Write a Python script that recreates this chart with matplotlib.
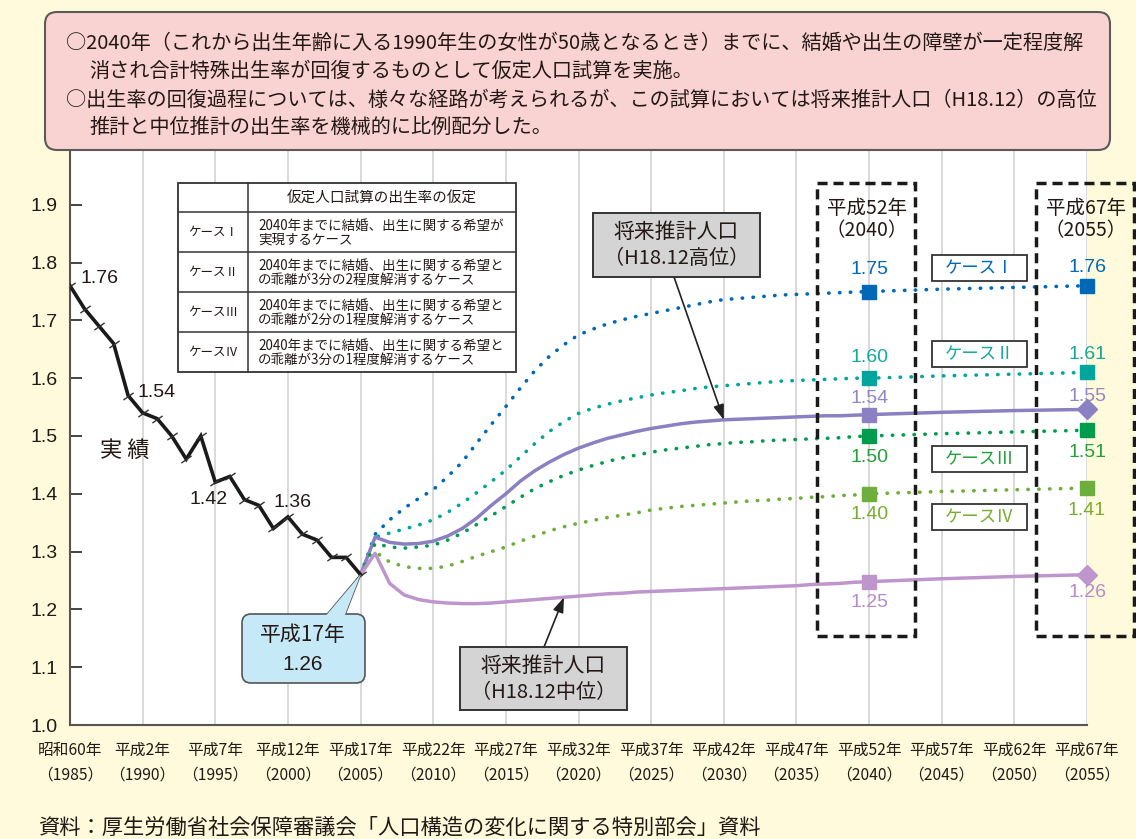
import matplotlib
matplotlib.use("Agg")
import matplotlib.pyplot as plt
from matplotlib.patches import FancyBboxPatch, Rectangle, Polygon

# ---------------- data ----------------
actual_years = list(range(1985, 2006))
actual_tfr = [1.76, 1.72, 1.69, 1.66, 1.57, 1.54, 1.53, 1.50, 1.46, 1.50, 1.42,
              1.43, 1.39, 1.38, 1.34, 1.36, 1.33, 1.32, 1.29, 1.29, 1.26]
actual_labeled_years = [1985, 1990, 1995, 2000]

proj_years = list(range(2005, 2041)) + [2045, 2050, 2055]
high_variant = [1.26, 1.325, 1.316, 1.313, 1.314, 1.318, 1.327, 1.340, 1.358, 1.380,
                1.400, 1.422, 1.440, 1.455, 1.468, 1.479, 1.488, 1.496, 1.502, 1.508,
                1.513, 1.517, 1.521, 1.524, 1.526, 1.528, 1.529, 1.530, 1.531, 1.532,
                1.533, 1.534, 1.535, 1.535, 1.536, 1.537, 1.541, 1.544, 1.546]
medium_variant = [1.26, 1.297, 1.245, 1.225, 1.217, 1.213, 1.211, 1.210, 1.210, 1.211,
                  1.213, 1.215, 1.217, 1.219, 1.221, 1.223, 1.225, 1.227, 1.228, 1.230,
                  1.231, 1.232, 1.233, 1.234, 1.235, 1.236, 1.237, 1.238, 1.239, 1.240,
                  1.241, 1.243, 1.244, 1.245, 1.247, 1.248, 1.253, 1.257, 1.260]
case1 = [1.26, 1.330, 1.355, 1.375, 1.392, 1.407, 1.430, 1.455, 1.488, 1.520,
         1.551, 1.583, 1.613, 1.638, 1.658, 1.675, 1.685, 1.694, 1.701, 1.707,
         1.712, 1.717, 1.722, 1.727, 1.732, 1.736, 1.738, 1.740, 1.742, 1.744,
         1.745, 1.746, 1.747, 1.748, 1.749, 1.750, 1.754, 1.757, 1.760]
case2 = [1.26, 1.325, 1.332, 1.339, 1.346, 1.355, 1.368, 1.384, 1.402, 1.421,
         1.441, 1.464, 1.487, 1.508, 1.525, 1.539, 1.548, 1.555, 1.561, 1.566,
         1.571, 1.575, 1.578, 1.582, 1.585, 1.587, 1.589, 1.591, 1.593, 1.595,
         1.596, 1.597, 1.598, 1.599, 1.600, 1.600, 1.604, 1.607, 1.610]
case3 = [1.26, 1.314, 1.308, 1.306, 1.308, 1.311, 1.320, 1.332, 1.347, 1.362,
         1.378, 1.394, 1.409, 1.421, 1.432, 1.441, 1.449, 1.456, 1.462, 1.467,
         1.472, 1.476, 1.479, 1.482, 1.485, 1.487, 1.489, 1.490, 1.492, 1.493,
         1.494, 1.495, 1.496, 1.497, 1.499, 1.500, 1.504, 1.507, 1.510]
case4 = [1.26, 1.300, 1.282, 1.274, 1.271, 1.271, 1.275, 1.283, 1.292, 1.300,
         1.308, 1.318, 1.327, 1.336, 1.343, 1.349, 1.354, 1.359, 1.363, 1.367,
         1.372, 1.375, 1.378, 1.380, 1.382, 1.384, 1.386, 1.388, 1.389, 1.391,
         1.392, 1.394, 1.395, 1.397, 1.398, 1.400, 1.404, 1.407, 1.410]
marker_years = [2040, 2055]

tick_years = list(range(1985, 2056, 5))
era_labels = ["昭和60年", "平成2年", "平成7年", "平成12年", "平成17年", "平成22年", "平成27年",
              "平成32年", "平成37年", "平成42年", "平成47年", "平成52年", "平成57年",
              "平成62年", "平成67年"]
y_ticks = [1.0, 1.1, 1.2, 1.3, 1.4, 1.5, 1.6, 1.7, 1.8, 1.9]

case_names = ["ケースⅠ", "ケースⅡ", "ケースⅢ", "ケースⅣ"]
table_header = "仮定人口試算の出生率の仮定"
table_rows = [
    ("2040年までに結婚、出生に関する希望が", "実現するケース"),
    ("2040年までに結婚、出生に関する希望と", "の乖離が3分の2程度解消するケース"),
    ("2040年までに結婚、出生に関する希望と", "の乖離が2分の1程度解消するケース"),
    ("2040年までに結婚、出生に関する希望と", "の乖離が3分の1程度解消するケース"),
]
note_lines = [
    "○2040年（これから出生年齢に入る1990年生の女性が50歳となるとき）までに、結婚や出生の障壁が一定程度解",
    "消され合計特殊出生率が回復するものとして仮定人口試算を実施。",
    "○出生率の回復過程については、様々な経路が考えられるが、この試算においては将来推計人口（H18.12）の高位",
    "推計と中位推計の出生率を機械的に比例配分した。",
]
source_text = "資料：厚生労働省社会保障審議会「人口構造の変化に関する特別部会」資料"

# ---------------- setup ----------------
W, H = 1136, 839
CJK = ["Noto Sans CJK JP", "DejaVu Sans"]
NUM = ["Liberation Sans", "DejaVu Sans"]
plt.rcParams["font.family"] = CJK
TXT = "#231815"

fig = plt.figure(figsize=(W / 100, H / 100), dpi=100, facecolor="#FFFADB")
ax = fig.add_axes([70 / W, 1 - 725 / H, (1087 - 70) / W, (725 - 150) / H])
ax.set_facecolor("white")
ax.set_xlim(1985, 2055)
ax.set_ylim(1.0, 1.0 + 575 / 578)

ov = fig.add_axes([0, 0, 1, 1])
ov.set_zorder(5)
ov.set_xlim(0, W)
ov.set_ylim(H, 0)
ov.axis("off")


def pt(v):
    return v * 72 / 100


# axes styling
for s in ["top", "right"]:
    ax.spines[s].set_visible(False)
for s in ["left", "bottom"]:
    ax.spines[s].set_color("#555555")
    ax.spines[s].set_linewidth(1.5)
ax.set_xticks(tick_years)
ax.set_xticklabels([f"{e}\n（{y}）" for e, y in zip(era_labels, tick_years)],
                   fontsize=11.3, linespacing=1.6, color=TXT)
ax.tick_params(axis="x", length=0, pad=12)
ax.set_yticks(y_ticks)
ax.set_yticklabels([f"{v:.1f}" for v in y_ticks], fontsize=14, family=NUM, color=TXT)
ax.tick_params(axis="y", direction="in", length=8.6, width=1.4, color="#444444", pad=9)
ax.grid(axis="x", color="#D3D3D3", lw=1.2)
ax.set_axisbelow(True)

# actual line
ax.plot(actual_years, actual_tfr, color="#1a1a1a", lw=2.6, zorder=4, solid_joinstyle="miter")
ax.plot(actual_years, actual_tfr, ls="none", marker=(2, 0, -55), ms=9, mew=1.0,
        mec="#333333", zorder=5)
label_offsets = {1985: (30, -7), 1990: (14, -20), 1995: (-7, 17), 2000: (5, -14)}
for yr in actual_labeled_years:
    v = actual_tfr[actual_years.index(yr)]
    dx, dy = label_offsets[yr]
    ax.annotate(f"{v:.2f}", (yr, v), xytext=(pt(dx), -pt(dy)), textcoords="offset points",
                ha="center", va="center", fontsize=14, family=NUM, color=TXT, zorder=6)

# projections
series = [
    (case1, "#0068B7", "#0068B7", "dot", ["s", "s"], [-22, -18]),
    (case2, "#00A59B", "#14A89C", "dot", ["s", "s"], [-21, -18]),
    (high_variant, "#8A80C2", "#9088C6", "solid", ["s", "D"], [-16, -13]),
    (case3, "#009B4C", "#22A03C", "dot", ["s", "s"], [21, 22]),
    (case4, "#6DAE3C", "#78AE30", "dot", ["s", "s"], [21, 22]),
    (medium_variant, "#BE95CC", "#B98BC9", "solid", ["s", "D"], [21, 18]),
]
for vals, col, lcol, style, mks, offs in series:
    if style == "dot":
        ax.plot(proj_years, vals, color=col, lw=2.6, ls=(0, (0.1, 2.9)),
                dash_capstyle="round", zorder=3)
    else:
        ax.plot(proj_years, vals, color=col, lw=2.5, zorder=3)
    for yr, mk, dy in zip(marker_years, mks, offs):
        v = vals[proj_years.index(yr)]
        ax.plot([yr], [v], ls="none", marker=mk, ms=9.5 if mk == "s" else 10,
                color=col, zorder=4, clip_on=False)
        ax.annotate(f"{v:.2f}", (yr, v), xytext=(0, -pt(dy)), textcoords="offset points",
                    ha="center", va="center", fontsize=14, family=NUM, color=lcol,
                    zorder=6, annotation_clip=False)

# arrows to callouts
i_hi = proj_years.index(2030)
ax.annotate("", xy=(2030, high_variant[i_hi]), xycoords="data", xytext=(674, 277),
            textcoords=ov.transData,
            arrowprops=dict(arrowstyle="-|>,head_length=0.9,head_width=0.32", color="#222222",
                            lw=1.2, shrinkA=0, shrinkB=0), zorder=7)
i_md = proj_years.index(2019)
ax.annotate("", xy=(2019, medium_variant[i_md]), xycoords="data", xytext=(544, 647),
            textcoords=ov.transData,
            arrowprops=dict(arrowstyle="-|>,head_length=0.9,head_width=0.32", color="#222222",
                            lw=1.2, shrinkA=0, shrinkB=0), zorder=7)

# ---------------- overlay ----------------
# note box
ov.add_patch(FancyBboxPatch((45, 12), 1065, 138, boxstyle="round,pad=0,rounding_size=12",
                            fc="#F9D3D1", ec="#5A5A5A", lw=1.5))
note_pos = [(66, 43), (89, 71), (66, 100), (89, 127)]
for (x, y), line in zip(note_pos, note_lines):
    ov.text(x, y, line, fontsize=14.5, ha="left", va="center", color=TXT)

# table
tx0, tx1, tx2 = 178, 248, 516
rows_y = [183, 212, 252, 292, 332, 372]
ov.add_patch(Rectangle((tx0, rows_y[0]), tx2 - tx0, rows_y[-1] - rows_y[0], fc="white",
                       ec="#333333", lw=1.3))
for y in rows_y[1:-1]:
    ov.plot([tx0, tx2], [y, y], color="#333333", lw=1.1)
ov.plot([tx1, tx1], [rows_y[0], rows_y[-1]], color="#333333", lw=1.1)
ov.text((tx1 + tx2) / 2, (rows_y[0] + rows_y[1]) / 2, table_header, fontsize=10.5,
        ha="center", va="center", color=TXT)
for i, (name, (l1, l2)) in enumerate(zip(case_names, table_rows)):
    top = rows_y[i + 1]
    bot = rows_y[i + 2]
    ov.text((tx0 + tx1) / 2, (top + bot) / 2, name, fontsize=9, ha="center", va="center",
            color=TXT)
    ov.text(tx1 + 10, top + 13.5, l1, fontsize=9.7, ha="left", va="center", color=TXT)
    ov.text(tx1 + 10, top + 28, l2, fontsize=9.7, ha="left", va="center", color=TXT)

# 実績
ov.text(125, 450, "実 績", fontsize=16, ha="center", va="center", color=TXT)

# callout H17
tip_disp = ax.transData.transform((2005, actual_tfr[-1]))
tip = (tip_disp[0], H - tip_disp[1])
tri = [(318, 625), (341, 625), tip]
ov.add_patch(Polygon(tri, closed=True, fc="#C6E9F8", ec="#555555", lw=1.2, zorder=1))
ov.add_patch(FancyBboxPatch((242, 614), 123, 69, boxstyle="round,pad=0,rounding_size=9",
                            fc="#C6E9F8", ec="#555555", lw=1.2, zorder=2))
ov.add_patch(Polygon(tri, closed=True, fc="#C6E9F8", ec="none", zorder=3))
ov.text(303, 635, "平成17年", fontsize=15, ha="center", va="center", color=TXT, zorder=4)
ov.text(303, 664, "1.26", fontsize=15, family=NUM, ha="center", va="center", color=TXT, zorder=4)

# gray callouts
for (x0, y0, w, h), l1, l2 in [((593, 213, 167, 64), "将来推計人口", "（H18.12高位）"),
                               ((460, 647, 167, 63), "将来推計人口", "（H18.12中位）")]:
    ov.add_patch(Rectangle((x0, y0), w, h, fc="#D4D4D4", ec="#333333", lw=1.4))
    ov.text(x0 + w / 2, y0 + 19, l1, fontsize=15, ha="center", va="center", color=TXT)
    ov.text(x0 + w / 2, y0 + 46, l2, fontsize=14.5, ha="center", va="center", color=TXT)

# dashed boxes
for x0, era, yr in [(817, "平成52年", "（2040）"), (1036, "平成67年", "（2055）")]:
    ov.add_patch(Rectangle((x0, 183), 98, 453, fc="none", ec="#1a1a1a", lw=2.5,
                           ls=(0, (2.9, 1.7))))
    ov.text(x0 + 50, 208, era, fontsize=14, ha="center", va="center", color=TXT)
    ov.text(x0 + 50, 231, yr, fontsize=14, ha="center", va="center", color=TXT)

# case label boxes
case_colors = ["#0068B7", "#14A89C", "#22A03C", "#78AE30"]
case_box_y = [255, 341, 446, 504]
for name, col, y0 in zip(case_names, case_colors, case_box_y):
    ov.add_patch(Rectangle((932, y0), 95, 26, fc="white", ec="#333333", lw=1.3))
    ov.text(979.5, y0 + 13, name, fontsize=12.5, ha="center", va="center", color=col)

# source
ov.text(38, 828, source_text, fontsize=15.3, ha="left", va="center", color=TXT)

fig.savefig("out.png", dpi=100, facecolor=fig.get_facecolor())
